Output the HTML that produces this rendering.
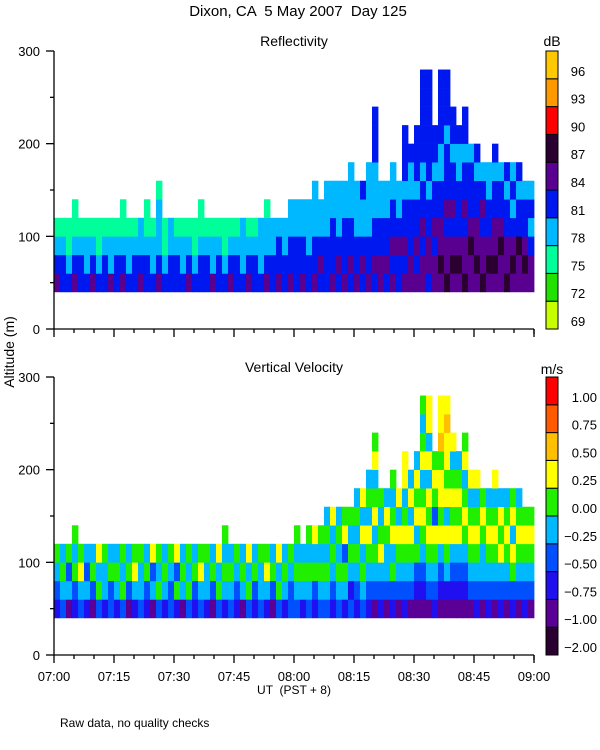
<!DOCTYPE html>
<html><head><meta charset="utf-8"><style>
html,body{margin:0;padding:0;background:#fff;}
svg{display:block;font-family:"Liberation Sans",sans-serif;}
</style></head><body>
<svg id="s" width="600" height="750" xmlns="http://www.w3.org/2000/svg">
<text x="298" y="16" font-size="15" text-anchor="middle" style="white-space:pre">Dixon, CA  5 May 2007  Day 125</text>
<text x="294" y="46" font-size="14" text-anchor="middle">Reflectivity</text>
<text x="294" y="372" font-size="14" text-anchor="middle">Vertical Velocity</text>
<text transform="translate(14,352) rotate(-90)" font-size="14" text-anchor="middle">Altitude (m)</text>
<text x="294" y="694" font-size="12" text-anchor="middle" style="white-space:pre">UT  (PST + 8)</text>
<text x="60" y="727" font-size="12">Raw data, no quality checks</text>
<text x="552" y="46" font-size="14" text-anchor="middle">dB</text>
<text x="552" y="374" font-size="14" text-anchor="middle">m/s</text>
</svg>
<script>
const reflCols=[
"5432","4432","4322","54322","4432","4332","5432","4322","4432","5332",
"4432","54322","4332","4432","5433","44322","4332","543332","4322","4433",
"4432","4332","5432","4322","44322","4432","5332","4432","4322","5432",
"4432","4333","5432","4432","4333","54332","4433","5443","4433","54433",
"44433","54433","44333","544333","45433","444333","544433","454333","544433","4544333",
"544333","454334","5443333","4544333444","554433","454433","5454433","445433","545443444","55444334",
"545443444","554544344444","455443444444","554544344","565544334444","655454443444","5654544344","565444334","6554544344","55654443",
"56554434","6554543","5654433","56554434","5565443","6554434","5654343","5564434","565443","554343"];
const velCols=[
"2345","3454","1435","23545","3465","2434","1354","3546","2445","3354",
"2454","3545","1354","2465","3445","2354","1436","3545","2454","3345",
"2536","1454","3545","2354","3465","2445","1354","3546","24545","3454",
"2345","1454","3546","2354","3445","2465","1354","3546","2454","3345",
"34545","2454","34545","23546","34545","345454","234546","345454","245365","324545",
"2345454","3454646","23456454","1345465465","2346545","1344564","23546545","1345646","234565466","13456464",
"123546564","123456546545","134565646466","234563565","123465665766","124564656676","1234656546","123465654","1234565465","13456546",
"23456546","1344565","2345654","13456546","2346564","1345654","2356465","1345654","234565","134565"];
const reflColors=["#c8ff00","#22e000","#00ff9a","#00b8ff","#0018f0","#5a0090","#2a0030","#ff0000","#ff9900","#ffc800"];
const reflLabels=["69","72","75","78","81","84","87","90","93","96"];
const velColors=["#2a0030","#5a0096","#2010f0","#0050ff","#00b8ff","#20f000","#ffff00","#ffbe00","#ff5a00","#ff0000"];
const velLabels=["-2.00","-1.00","-0.75","-0.50","-0.25","0.00","0.25","0.50","0.75","1.00"];
const yTicks=[0,50,100,150,200,250,300];
const xLabels=["07:00","07:15","07:30","07:45","08:00","08:15","08:30","08:45","09:00"];
const baseAlt=40, binAlt=20, t0=0, t1=120, colMin=1.5;

const svg=document.getElementById('s');
const NS="http://www.w3.org/2000/svg";
function mk(tag,attrs,parent){const e=document.createElementNS(NS,tag);for(const k in attrs)e.setAttribute(k,attrs[k]);(parent||svg).appendChild(e);return e;}
const X0=54,X1=534;
const xs=m=>X0+(m-t0)/(t1-t0)*(X1-X0);

function panel(name,cols,colors,labels,yBot,yTop,cbLast){
  const ys=a=>yBot-(a/300)*(yBot-yTop);
  const g=mk('g',{});
  
  
  cols.forEach((str,i)=>{
    const xa=xs(i*colMin), xb=xs((i+1)*colMin);
    for(let j=0;j<str.length;j++){
      const v=+str[j];
      const ya=ys(baseAlt+j*binAlt), yb=ys(baseAlt+(j+1)*binAlt);
      const r=mk('rect',{x:xa,y:yb,width:xb-xa+0.4,height:ya-yb+0.3,fill:colors[v]},g);
      
      
    }
  });
  const ax=mk('g',{stroke:'#000','stroke-width':1.3,fill:'none'});
  
  
  mk('line',{x1:X0,y1:yTop,x2:X0,y2:yBot},ax);
  mk('line',{x1:X0,y1:yBot,x2:X1,y2:yBot},ax);
  mk('line',{x1:X1,y1:yBot,x2:X1,y2:yBot+5},ax);
  yTicks.forEach(t=>{const y=ys(t);const major=t%100===0;mk('line',{x1:X0-(major?8:4),y1:y,x2:X0,y2:y},ax);
    if(major){const tx=mk('text',{x:40,y:y+5,'font-size':13,'text-anchor':'end'});tx.textContent=t;
      
      }});
  for(let m=0;m<=120;m+=5){const x=xs(m);mk('line',{x1:x,y1:yBot,x2:x,y2:yBot+(m%15===0?8:4)},ax);}
  const cx=546,cw=12,h=(yBot-yTop)/colors.length;
  colors.forEach((c,k)=>{
    const yb=yBot-k*h;
    const r=mk('rect',{x:cx,y:yb-h,width:cw,height:h,fill:c,stroke:'#000','stroke-width':1});
    
    
    const t=mk('text',{x:cbLast?597:578,y:yb-3,'font-size':13,'text-anchor':cbLast?'end':'middle'});
    t.textContent=labels[k].replace('-','\u2212');
    
    
  });
}
panel('reflectivity',reflCols,reflColors,reflLabels,329,51,false);
panel('velocity',velCols,velColors,velLabels,655,377,true);
xLabels.forEach((l,i)=>{const t=mk('text',{x:xs(i*15),y:681,'font-size':13,'text-anchor':'middle'});t.textContent=l;
  
  });
</script>
</body></html>
